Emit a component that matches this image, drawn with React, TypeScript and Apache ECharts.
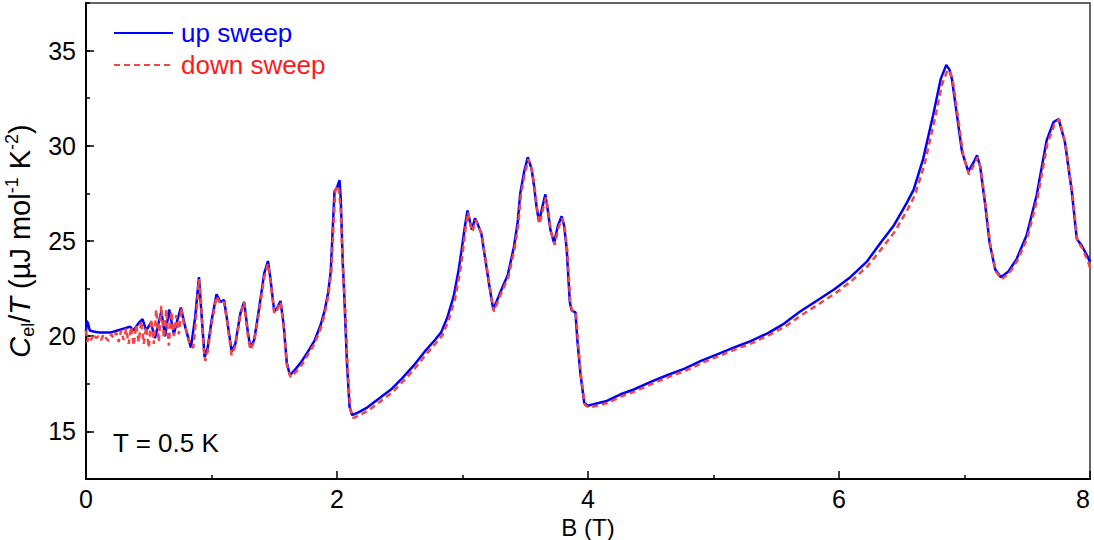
import React, { useEffect, useRef } from "react";
import * as echarts from "echarts";

// [B (T), C_el/T (µJ mol^-1 K^-2)]
const upSweep: [number, number][] = [
  [0.0, 20.2], [0.005, 20.8], [0.015, 20.7], [0.03, 20.3], [0.06, 20.25], [0.1, 20.2],
  [0.15, 20.2], [0.2, 20.2], [0.25, 20.3], [0.3, 20.4], [0.35, 20.5], [0.38, 20.3],
  [0.42, 20.7], [0.45, 20.9], [0.48, 20.3], [0.517, 20.7], [0.55, 19.9], [0.6, 21.3],
  [0.63, 20.0], [0.663, 21.4], [0.7, 20.1], [0.73, 20.9], [0.756, 21.5], [0.79, 20.5],
  [0.836, 19.4], [0.87, 21.0], [0.9, 23.1], [0.92, 21.2],
  [0.945, 18.9], [0.97, 19.4], [1.0, 20.8], [1.04, 22.2], [1.07, 21.8], [1.1, 21.9],
  [1.13, 20.6], [1.16, 19.2], [1.19, 19.6], [1.23, 21.2], [1.26, 21.8], [1.29, 20.2],
  [1.31, 19.4], [1.34, 19.8], [1.38, 21.5], [1.42, 23.3], [1.45, 23.95], [1.47, 23.0],
  [1.5, 21.3], [1.525, 21.5], [1.55, 21.85], [1.575, 20.6], [1.6, 18.6], [1.625, 17.95],
  [1.66, 18.2], [1.71, 18.6], [1.77, 19.2], [1.82, 19.75], [1.87, 20.6], [1.9, 21.3],
  [1.93, 22.3], [1.95, 23.4], [1.965, 25.5], [1.98, 27.6], [2.0, 27.8], [2.02, 28.2],
  [2.03, 27.2], [2.045, 24.0], [2.06, 21.8], [2.08, 18.5], [2.1, 16.3], [2.12, 15.85],
  [2.17, 16.0], [2.24, 16.25], [2.33, 16.7], [2.43, 17.2], [2.52, 17.8], [2.61, 18.45],
  [2.7, 19.2], [2.78, 19.8], [2.83, 20.2], [2.88, 21.0], [2.93, 22.1], [2.97, 23.5],
  [2.99, 24.4], [3.02, 25.8], [3.04, 26.6], [3.06, 26.0], [3.075, 25.6], [3.1, 26.2],
  [3.12, 25.9], [3.15, 25.4], [3.18, 24.1], [3.21, 22.8], [3.245, 21.4], [3.27, 21.8],
  [3.3, 22.3], [3.36, 23.2], [3.41, 24.7], [3.44, 26.0], [3.46, 27.5], [3.49, 28.6],
  [3.52, 29.4], [3.55, 28.8], [3.57, 27.9], [3.59, 26.8], [3.61, 26.0], [3.63, 26.6],
  [3.66, 27.45], [3.68, 26.6], [3.7, 25.6], [3.73, 24.9], [3.76, 25.8], [3.79, 26.3],
  [3.81, 25.8], [3.83, 24.6], [3.855, 21.8], [3.87, 21.35], [3.9, 21.25], [3.915, 19.8],
  [3.94, 18.0], [3.97, 16.5], [4.0, 16.35], [4.06, 16.45], [4.15, 16.6], [4.26, 16.95],
  [4.365, 17.2], [4.5, 17.6], [4.63, 17.95], [4.77, 18.3], [4.9, 18.7], [5.03, 19.05],
  [5.16, 19.4], [5.3, 19.75], [5.43, 20.15], [5.56, 20.65], [5.69, 21.3], [5.82, 21.85],
  [5.96, 22.45], [6.09, 23.1], [6.22, 23.9], [6.33, 24.9], [6.435, 25.8], [6.54, 27.0],
  [6.595, 27.7], [6.67, 29.3], [6.75, 31.6], [6.81, 33.5], [6.855, 34.25], [6.88, 34.0],
  [6.9, 33.5], [6.94, 31.6], [6.98, 29.7], [7.03, 28.65], [7.07, 29.1], [7.1, 29.5],
  [7.125, 28.9], [7.165, 26.9], [7.2, 24.9], [7.245, 23.5], [7.29, 23.1], [7.35, 23.4],
  [7.415, 24.05], [7.495, 25.3], [7.575, 27.4], [7.655, 30.3], [7.71, 31.25], [7.75, 31.4],
  [7.8, 30.2], [7.855, 27.6], [7.895, 25.1], [7.935, 24.75], [7.98, 24.2], [8.0, 23.9],
];

const downSweep: [number, number][] = [
  [0.0, 20.3], [0.01, 19.7], [0.02, 20.0], [0.04, 19.8], [0.06, 20.1], [0.08, 19.9],
  [0.1, 20.0], [0.12, 19.8], [0.14, 20.1], [0.16, 19.9], [0.18, 19.75], [0.2, 20.1],
  [0.22, 19.9], [0.24, 20.2], [0.26, 19.7], [0.28, 20.3], [0.3, 19.8], [0.32, 20.4],
  [0.34, 19.6], [0.36, 20.5], [0.38, 19.5], [0.4, 20.6], [0.42, 19.7], [0.44, 20.8],
  [0.46, 19.6], [0.48, 20.5], [0.5, 19.4], [0.52, 20.9], [0.54, 19.6], [0.56, 21.4],
  [0.58, 19.7], [0.6, 21.6], [0.62, 19.9], [0.64, 21.4], [0.66, 19.5], [0.68, 21.3],
  [0.7, 20.0], [0.72, 21.1], [0.74, 20.1], [0.76, 21.5], [0.78, 20.6], [0.8, 20.3],
  [0.83, 19.5], [0.855, 19.4], [0.88, 21.2], [0.9, 23.0], [0.915, 22.0], [0.935, 19.5],
  [0.95, 18.7], [0.97, 19.2], [1.0, 20.6], [1.04, 22.1], [1.07, 21.7], [1.1, 21.8],
  [1.13, 20.5], [1.16, 19.0], [1.19, 19.5], [1.23, 21.1], [1.26, 21.8], [1.29, 20.0],
  [1.31, 19.3], [1.34, 19.7], [1.38, 21.3], [1.42, 23.1], [1.45, 23.8], [1.47, 22.9],
  [1.5, 21.2], [1.525, 21.4], [1.55, 21.8], [1.575, 20.5], [1.6, 18.5], [1.63, 17.85],
  [1.67, 18.1], [1.72, 18.5], [1.77, 19.05], [1.82, 19.6], [1.87, 20.4], [1.9, 21.1],
  [1.93, 22.1], [1.955, 23.4], [1.97, 25.5], [1.985, 27.6], [2.0, 27.9], [2.015, 27.7],
  [2.03, 26.6], [2.045, 23.8], [2.065, 21.5], [2.085, 18.3], [2.105, 16.2], [2.13, 15.7],
  [2.18, 15.85], [2.25, 16.1], [2.34, 16.55], [2.44, 17.05], [2.53, 17.65], [2.62, 18.3],
  [2.71, 19.05], [2.79, 19.65], [2.84, 20.05], [2.89, 20.85], [2.94, 21.95], [2.98, 23.35],
  [3.0, 24.3], [3.025, 25.7], [3.045, 26.5], [3.065, 25.8], [3.08, 25.5], [3.105, 26.1],
  [3.125, 25.8], [3.155, 25.3], [3.185, 24.0], [3.215, 22.7], [3.25, 21.3], [3.275, 21.7],
  [3.305, 22.2], [3.365, 23.1], [3.415, 24.6], [3.445, 25.9], [3.465, 27.4], [3.495, 28.5],
  [3.525, 29.3], [3.555, 28.7], [3.575, 27.8], [3.595, 26.7], [3.615, 25.9], [3.635, 26.5],
  [3.665, 27.3], [3.685, 26.5], [3.705, 25.5], [3.735, 24.8], [3.765, 25.7], [3.795, 26.2],
  [3.815, 25.7], [3.835, 24.5], [3.86, 21.7], [3.875, 21.3], [3.905, 21.2], [3.92, 19.7],
  [3.945, 17.9], [3.975, 16.4], [4.005, 16.25], [4.07, 16.35], [4.16, 16.5], [4.27, 16.85],
  [4.375, 17.1], [4.51, 17.5], [4.64, 17.85], [4.78, 18.2], [4.91, 18.6], [5.04, 18.95],
  [5.17, 19.3], [5.31, 19.65], [5.44, 20.05], [5.57, 20.5], [5.7, 21.1], [5.83, 21.65],
  [5.97, 22.25], [6.1, 22.9], [6.23, 23.7], [6.34, 24.6], [6.445, 25.5], [6.55, 26.7],
  [6.605, 27.4], [6.68, 29.0], [6.76, 31.3], [6.82, 33.2], [6.865, 34.0], [6.89, 33.8],
  [6.91, 33.3], [6.95, 31.4], [6.99, 29.5], [7.035, 28.5], [7.075, 29.0], [7.105, 29.4],
  [7.13, 28.8], [7.17, 26.8], [7.205, 24.8], [7.25, 23.4], [7.295, 23.0], [7.355, 23.3],
  [7.42, 23.95], [7.5, 25.15], [7.58, 27.2], [7.66, 30.1], [7.715, 31.1], [7.755, 31.4],
  [7.805, 30.1], [7.86, 27.5], [7.9, 25.0], [7.94, 24.6], [7.985, 23.9], [8.0, 23.6],
];

const xTicks = [0, 2, 4, 6, 8];
const yTicks = [15, 20, 25, 30, 35];

const FONT = "'Liberation Sans', Arial, sans-serif";
const BLUE = "#0000ff";
const RED = "#f24646";

export default function App() {
  const ref = useRef<HTMLDivElement>(null);

  useEffect(() => {
    if (!ref.current) return;
    const chart = echarts.init(ref.current, null, { renderer: "svg" });
    chart.setOption({
      animation: false,
      backgroundColor: "#ffffff",
      textStyle: { fontFamily: FONT },
      grid: {
        left: 86,
        right: 4,
        top: 3,
        bottom: 61,
        containLabel: false,
        outerBoundsMode: "none",
        show: true,
        borderColor: "#333333",
        borderWidth: 1.5,
        backgroundColor: "transparent",
      },
      legend: {
        orient: "vertical",
        left: 113,
        top: 19,
        padding: 0,
        itemWidth: 59,
        itemHeight: 14,
        itemGap: 4,
        itemStyle: { opacity: 0 },
        textStyle: { fontSize: 26, fontFamily: FONT, lineHeight: 28, padding: [0, 0, 0, 3] },
        data: [
          { name: "up sweep", textStyle: { color: BLUE } },
          { name: "down sweep", textStyle: { color: "#ff1a1a" } },
        ],
      },
      xAxis: {
        type: "value",
        min: 0,
        max: 8,
        interval: 2,
        name: "B (T)",
        nameLocation: "middle",
        nameGap: 27,
        nameTextStyle: { fontSize: 24, lineHeight: 24, color: "#000", fontFamily: FONT },
        axisLine: { show: true, lineStyle: { color: "#000", width: 2 } },
        axisTick: { show: true, inside: true, length: 8, lineStyle: { color: "#000", width: 1.5 } },
        minorTick: { show: true, splitNumber: 2, length: 4, lineStyle: { color: "#000", width: 1.5 } },
        axisLabel: {
          fontSize: 25,
          color: "#000",
          margin: 7,
          fontFamily: FONT,
          customValues: xTicks,
          alignMaxLabel: "right",
        },
        splitLine: { show: false },
        minorSplitLine: { show: false },
      },
      yAxis: [
        {
          type: "value",
          min: 12.5,
          max: 37.5,
          name:
            "{i|C}{sub|el}{n|/}{i|T}{n| (µJ mol}{sup|-1}{n| K}{sup|-2}{n|)}",
          nameLocation: "middle",
          nameGap: 44,
          nameRotate: 90,
          nameTextStyle: {
            color: "#000",
            fontFamily: FONT,
            rich: {
              i: { fontSize: 29, fontStyle: "italic", fontFamily: FONT, color: "#000", lineHeight: 34 },
              n: { fontSize: 29, fontFamily: FONT, color: "#000", lineHeight: 34 },
              sub: { fontSize: 18, fontFamily: FONT, color: "#000", lineHeight: 15, verticalAlign: "bottom" },
              sup: { fontSize: 18, fontFamily: FONT, color: "#000", lineHeight: 17, verticalAlign: "top" },
            },
          },
          axisLine: { show: true, lineStyle: { color: "#000", width: 2 } },
          axisTick: {
            show: true,
            inside: true,
            length: 8,
            customValues: yTicks,
            lineStyle: { color: "#000", width: 1.5 },
          },
          axisLabel: {
            fontSize: 25,
            color: "#000",
            margin: 10,
            fontFamily: FONT,
            customValues: yTicks,
          },
          splitLine: { show: false },
        },
        {
          type: "value",
          min: 12.5,
          max: 37.5,
          interval: 2.5,
          position: "left",
          axisLine: { show: false },
          axisTick: { show: true, inside: true, length: 4, lineStyle: { color: "#000", width: 1.5 } },
          axisLabel: { show: false },
          splitLine: { show: false },
        },
      ],
      series: [
        {
          name: "up sweep",
          type: "line",
          data: upSweep,
          showSymbol: false,
          symbol: "none",
          lineStyle: { color: BLUE, width: 2.5 },
          itemStyle: { color: BLUE },
          z: 2,
        },
        {
          name: "down sweep",
          type: "line",
          data: downSweep,
          showSymbol: false,
          symbol: "none",
          lineStyle: { color: RED, width: 2.5, type: [6, 4] },
          itemStyle: { color: RED },
          z: 3,
        },
      ],
      graphic: [
        {
          type: "text",
          left: 113,
          top: 430,
          style: { text: "T = 0.5 K", fontSize: 26, fontFamily: FONT, fill: "#000" },
        },
      ],
    });
    return () => chart.dispose();
  }, []);

  return (
    <div
      ref={ref}
      style={{ position: "fixed", left: 0, top: 0, width: 1094, height: 540, background: "#fff" }}
    />
  );
}
